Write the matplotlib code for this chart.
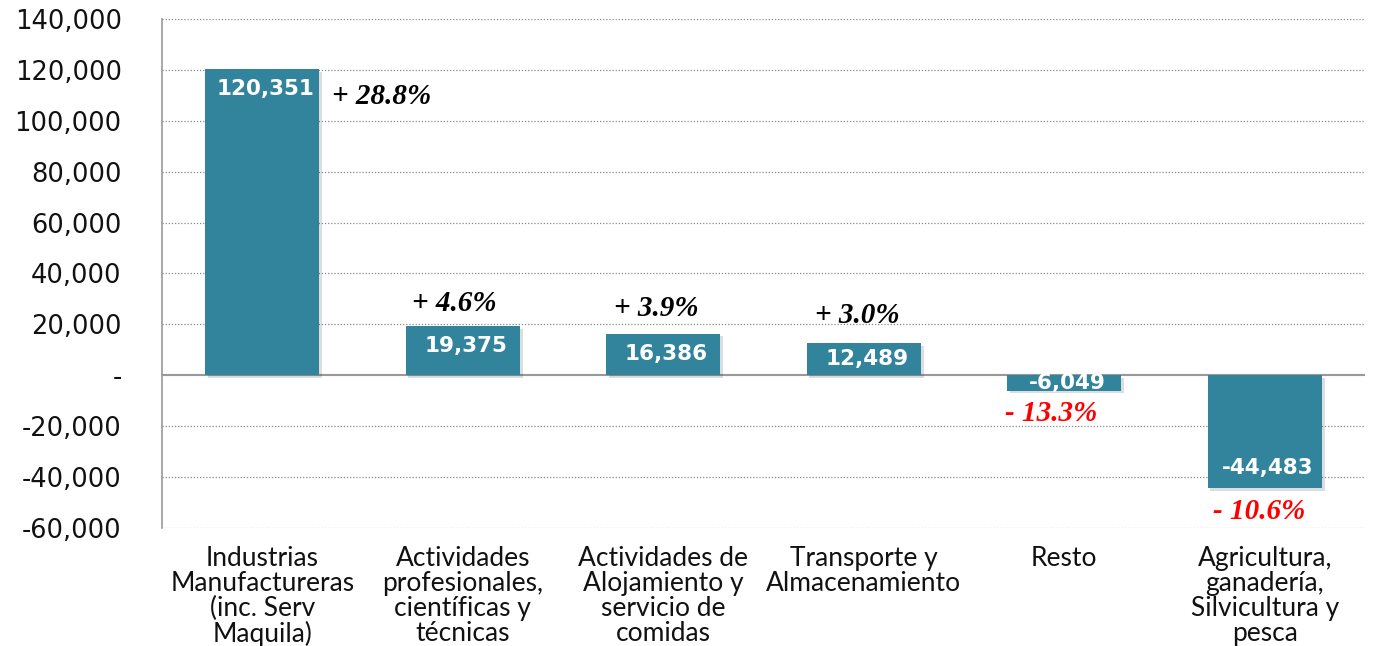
import matplotlib.pyplot as plt
import matplotlib.patheffects as pe
from matplotlib.ticker import FuncFormatter

categories = [
    "Industrias\nManufactureras\n(inc. Serv\nMaquila)",
    "Actividades\nprofesionales,\ncientíficas y\ntécnicas",
    "Actividades de\nAlojamiento y\nservicio de\ncomidas",
    "Transporte y\nAlmacenamiento",
    "Resto",
    "Agricultura,\nganadería,\nSilvicultura y\npesca",
]
values = [120351, 19375, 16386, 12489, -6049, -44483]
pct_labels = ["+ 28.8%", "+ 4.6%", "+ 3.9%", "+ 3.0%", "- 13.3%", "- 10.6%"]

# label offsets from bar end, in pixels
pct_offsets = [(119, -28), (-8, 22), (-7, 25), (-6, 28), (-13, -23), (-6, -23)]

bar_color = "#32849C"

fig = plt.figure(figsize=(13.75, 6.46), dpi=100)
ax = fig.add_axes([0.1178, 0.1827, 0.8749, 0.7879])

bars = ax.bar(range(len(values)), values, width=0.57, color=bar_color, zorder=3,
              path_effects=[pe.SimplePatchShadow(offset=(2, -2), alpha=0.15), pe.Normal()])

ax.set_xlim(-0.5, len(values) - 0.5)
ax.set_ylim(-60000, 140000)
ax.set_yticks(range(-60000, 140001, 20000))
ax.yaxis.set_major_formatter(FuncFormatter(lambda v, p: "-" if v == 0 else f"{int(v):,}"))
ax.tick_params(axis="y", length=0, pad=29, labelsize=18.5, labelcolor="#111111")
ax.set_xticks(range(len(values)))
ax.set_xticklabels(categories, fontsize=19, family="Lato", color="#111111",
                   linespacing=1.0)
ax.tick_params(axis="x", length=0, pad=13)

for y in range(-60000, 140001, 20000):
    if y != 0:
        ax.axhline(y, color="#888888", linestyle=(0, (1, 1.5)), linewidth=0.9, zorder=1)
ax.axhline(0, color="#999999", linewidth=1.5, zorder=2)

for s in ["top", "right", "bottom"]:
    ax.spines[s].set_visible(False)
ax.spines["left"].set_color("#999999")
ax.spines["left"].set_linewidth(1.2)

# value labels inside bars
for i, v in enumerate(values):
    h = abs(v) / 200000 * ax.bbox.height
    off = min(20, h / 2)
    dy = -off if v > 0 else off
    ax.annotate(f"{v:,}", (i, v), xytext=(3, dy), textcoords="offset pixels",
                ha="center", va="center", color="white", fontsize=15.5,
                fontweight="bold", zorder=4)

# percentage labels
for i, (v, t) in enumerate(zip(values, pct_labels)):
    c = "black" if v > 0 else "#FF0000"
    ax.annotate(t, (i, v), xytext=pct_offsets[i], textcoords="offset pixels",
                ha="center", va="center", color=c, fontsize=21,
                family="Liberation Serif", fontweight="bold", style="italic", zorder=4)

fig.savefig("out.png", dpi=100)
